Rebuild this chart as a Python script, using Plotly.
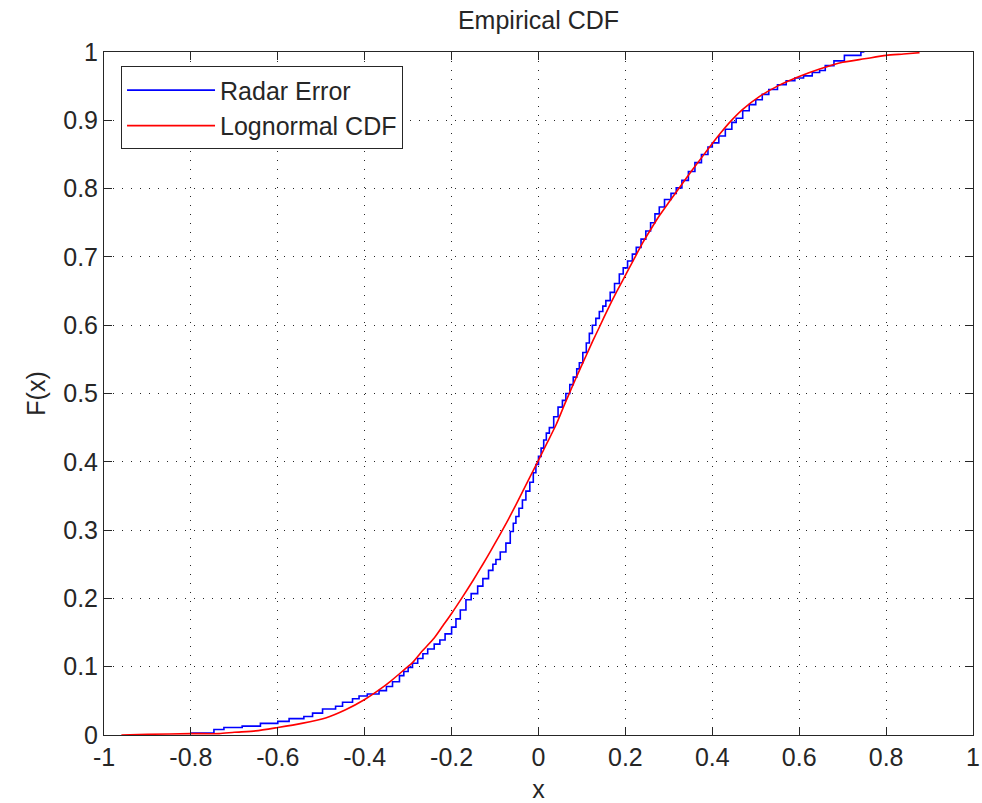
import plotly.graph_objects as go

# Empirical CDF (staircase)
radar_x = [-0.800, -0.747, -0.724, -0.682, -0.640, -0.600, -0.574, -0.540, -0.520, -0.497,
           -0.467, -0.451, -0.428, -0.413, -0.394, -0.367, -0.350, -0.336, -0.320, -0.310,
           -0.300, -0.290, -0.278, -0.266, -0.255, -0.240, -0.227, -0.215, -0.200, -0.190,
           -0.180, -0.167, -0.155, -0.140, -0.128, -0.115, -0.105, -0.098, -0.088, -0.075,
           -0.065, -0.058, -0.052, -0.045, -0.037, -0.029, -0.020, -0.012, -0.006, 0.000,
           0.006, 0.012, 0.018, 0.025, 0.035, 0.045, 0.055, 0.063, 0.072, 0.080,
           0.088, 0.094, 0.102, 0.110, 0.117, 0.124, 0.132, 0.140, 0.148, 0.155,
           0.165, 0.175, 0.186, 0.195, 0.205, 0.216, 0.225, 0.236, 0.247, 0.258,
           0.268, 0.278, 0.290, 0.305, 0.317, 0.330, 0.345, 0.360, 0.375, 0.390,
           0.400, 0.415, 0.430, 0.445, 0.455, 0.470, 0.485, 0.500, 0.515, 0.530,
           0.550, 0.570, 0.590, 0.610, 0.630, 0.647, 0.660, 0.680, 0.704, 0.742, 0.750]
radar_f = [0.003, 0.008, 0.011, 0.013, 0.017, 0.020, 0.024, 0.027, 0.032, 0.038,
           0.042, 0.048, 0.053, 0.057, 0.060, 0.065, 0.071, 0.078, 0.087, 0.093,
           0.099, 0.105, 0.112, 0.119, 0.126, 0.133, 0.139, 0.148, 0.158, 0.170,
           0.183, 0.198, 0.207, 0.218, 0.229, 0.241, 0.250, 0.257, 0.268, 0.281,
           0.298, 0.310, 0.320, 0.332, 0.344, 0.357, 0.370, 0.384, 0.396, 0.408,
           0.420, 0.432, 0.442, 0.450, 0.466, 0.480, 0.490, 0.500, 0.513, 0.524,
           0.536, 0.545, 0.560, 0.574, 0.588, 0.600, 0.610, 0.620, 0.628, 0.636,
           0.648, 0.661, 0.675, 0.684, 0.694, 0.704, 0.714, 0.726, 0.738, 0.750,
           0.763, 0.773, 0.784, 0.793, 0.801, 0.812, 0.825, 0.838, 0.850, 0.861,
           0.867, 0.877, 0.887, 0.897, 0.903, 0.914, 0.923, 0.930, 0.938, 0.945,
           0.952, 0.958, 0.962, 0.965, 0.970, 0.973, 0.980, 0.987, 0.995, 1.000, 1.000]

# Fitted lognormal CDF
logn_x = [-0.960, -0.900, -0.800, -0.735, -0.700, -0.651, -0.600, -0.545, -0.490, -0.444,
          -0.400, -0.367, -0.340, -0.312, -0.290, -0.266, -0.240, -0.220, -0.200, -0.174,
          -0.150, -0.128, -0.110, -0.090, -0.070, -0.052, -0.021, 0.003, 0.020, 0.041,
          0.060, 0.079, 0.095, 0.110, 0.125, 0.140, 0.160, 0.179, 0.195, 0.209,
          0.225, 0.240, 0.260, 0.280, 0.300, 0.325, 0.350, 0.375, 0.400, 0.420,
          0.440, 0.470, 0.509, 0.550, 0.600, 0.647, 0.700, 0.750, 0.800, 0.840, 0.877]
logn_f = [0.000, 0.001, 0.002, 0.002, 0.004, 0.006, 0.011, 0.017, 0.025, 0.037,
          0.052, 0.066, 0.079, 0.094, 0.106, 0.124, 0.142, 0.160, 0.178, 0.203,
          0.227, 0.250, 0.2695, 0.292, 0.315, 0.337, 0.376, 0.406, 0.428, 0.455,
          0.484, 0.512, 0.535, 0.556, 0.577, 0.597, 0.624, 0.648, 0.667, 0.684,
          0.703, 0.721, 0.742, 0.762, 0.780, 0.802, 0.824, 0.845, 0.866, 0.882,
          0.897, 0.916, 0.935, 0.950, 0.964, 0.975, 0.985, 0.990, 0.995, 0.997, 0.999]

x_ticks = [-1, -0.8, -0.6, -0.4, -0.2, 0, 0.2, 0.4, 0.6, 0.8, 1]
x_labels = ["-1", "-0.8", "-0.6", "-0.4", "-0.2", "0", "0.2", "0.4", "0.6", "0.8", "1"]
y_ticks = [0, 0.1, 0.2, 0.3, 0.4, 0.5, 0.6, 0.7, 0.8, 0.9, 1]
y_labels = ["0", "0.1", "0.2", "0.3", "0.4", "0.5", "0.6", "0.7", "0.8", "0.9", "1"]

font = dict(family="Liberation Sans, Arial, sans-serif", size=25, color="#262626")

fig = go.Figure()
fig.add_trace(go.Scatter(x=radar_x, y=radar_f, mode="lines", name="Radar Error",
                         line=dict(color="#0000ff", width=1.6, shape="hv")))
fig.add_trace(go.Scatter(x=logn_x, y=logn_f, mode="lines", name="Lognormal CDF",
                         line=dict(color="#ff0000", width=1.6, shape="spline", smoothing=0.6)))

axis_common = dict(showline=True, linecolor="#262626", linewidth=1, mirror="ticks",
                   ticks="inside", ticklen=8, tickcolor="#262626", showgrid=True,
                   gridcolor="#262626", griddash="1px,8px", gridwidth=1, zeroline=False,
                   tickfont=font, automargin=False)

fig.update_xaxes(range=[-1, 1], tickvals=x_ticks, ticktext=x_labels,
                 title=dict(text="x", font=font, standoff=12), **axis_common)
fig.update_yaxes(range=[0, 1], tickvals=y_ticks, ticktext=y_labels,
                 title=dict(text="F(x)", font=font, standoff=10), **axis_common)

fig.update_layout(
    width=982, height=803,
    margin=dict(l=104, r=9, t=52, b=68, autoexpand=False),
    paper_bgcolor="white", plot_bgcolor="white",
    font=font,
    title=dict(text="Empirical CDF", x=(104 + 973) / 2 / 982, xanchor="center",
               y=1 - 20 / 803, yanchor="middle", font=font),
    legend=dict(x=0.0196, y=0.979, xanchor="left", yanchor="top",
                bgcolor="white", bordercolor="#262626", borderwidth=1,
                font=font, itemwidth=88, tracegroupgap=0),
    showlegend=True,
)

fig.write_html("out.html")
